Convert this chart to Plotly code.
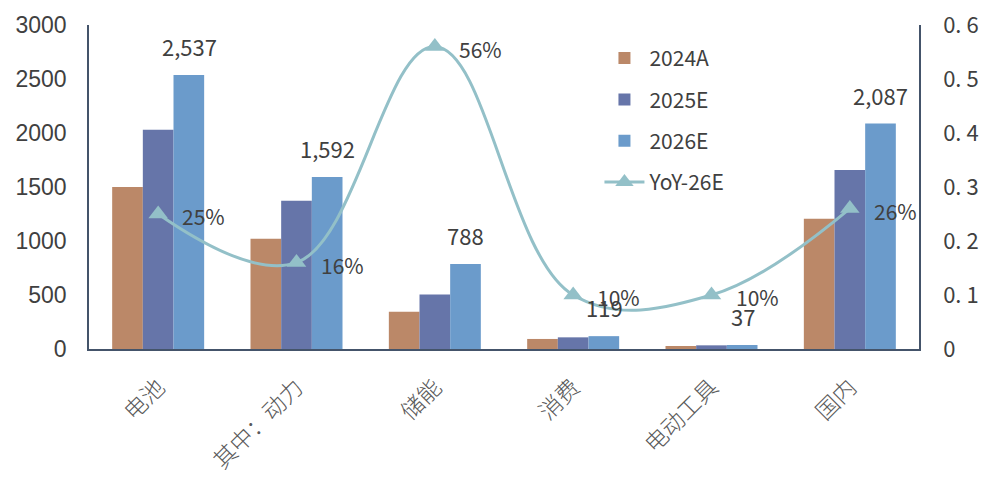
import plotly.graph_objects as go

categories = ["电池", "其中：动力", "储能", "消费", "电动工具", "国内"]
v2024a = [1500, 1020, 345, 93, 28, 1205]
v2025e = [2030, 1372, 505, 108, 34, 1657]
v2026e = [2537, 1592, 788, 119, 37, 2087]
yoy_26e = [0.25, 0.16, 0.56, 0.10, 0.10, 0.26]

left_ticks = [0, 500, 1000, 1500, 2000, 2500, 3000]
right_ticks = [0, 0.1, 0.2, 0.3, 0.4, 0.5, 0.6]
right_tick_text = ["0", "0. 1", "0. 2", "0. 3", "0. 4", "0. 5", "0. 6"]

CJK = "Noto Sans CJK SC"
TXT = "#404040"
AXIS = "#44546A"

fig = go.Figure()
bar_colors = ["#BB8868", "#6675A9", "#6B9BCB"]
for i, (name, vals) in enumerate(zip(["2024A", "2025E", "2026E"], [v2024a, v2025e, v2026e])):
    fig.add_trace(go.Bar(
        x=categories, y=vals, name=name, marker_color=bar_colors[i],
        marker_line_width=0, legendgroup=name,
    ))

fig.add_trace(go.Scatter(
    x=categories, y=yoy_26e, name="YoY-26E", yaxis="y2", mode="lines+markers",
    line=dict(color="#93C0C8", width=3, shape="spline", smoothing=1.1),
    marker=dict(symbol="triangle-up", size=17, color="#93C0C8"),
    legendgroup="yoy",
))

# value labels above the 2026E bars
for c, v in zip(categories, v2026e):
    fig.add_annotation(x=c, y=v, text=f"{v:,}", showarrow=False, xshift=31, yshift=29,
                       font=dict(family=CJK, size=22, color=TXT))
# growth labels right of the markers
for c, v in zip(categories, yoy_26e):
    fig.add_annotation(x=c, y=v, yref="y2", text=f"{round(v*100)}%", showarrow=False,
                       xanchor="left", xshift=22, yshift=-2,
                       font=dict(family=CJK, size=21, color=TXT))

fig.update_layout(
    width=997, height=479,
    margin=dict(l=89, r=78, t=25, b=130),
    paper_bgcolor="white", plot_bgcolor="white",
    barmode="group", bargap=0.335, bargroupgap=0,
    showlegend=True,
    legend=dict(x=0.615, y=0.96, xanchor="left", yanchor="top", bgcolor="rgba(0,0,0,0)",
                font=dict(family=CJK, size=21, color=TXT), tracegroupgap=11,
                itemwidth=40),
    xaxis=dict(showline=True, linecolor=AXIS, linewidth=1.5, ticks="", tickangle=-45,
               ticklabelstandoff=14, automargin=False,
               tickfont=dict(family=CJK, size=23, weight=300, color="#595959"),
               showgrid=False),
    yaxis=dict(range=[0, 3000], tickvals=left_ticks, showline=True, linecolor=AXIS,
               linewidth=1.5, showgrid=False, zeroline=False, ticks="",
               ticklabelstandoff=16, automargin=False,
               tickfont=dict(family="Liberation Sans", size=23, color=TXT)),
    yaxis2=dict(range=[0, 0.6], tickvals=right_ticks, ticktext=right_tick_text,
                overlaying="y", side="right", showline=True, linecolor=AXIS,
                linewidth=1.5, showgrid=False, zeroline=False, ticks="",
                ticklabelstandoff=18, automargin=False,
                tickfont=dict(family=CJK, size=22, color=TXT)),
)

fig.write_html("out.html")
